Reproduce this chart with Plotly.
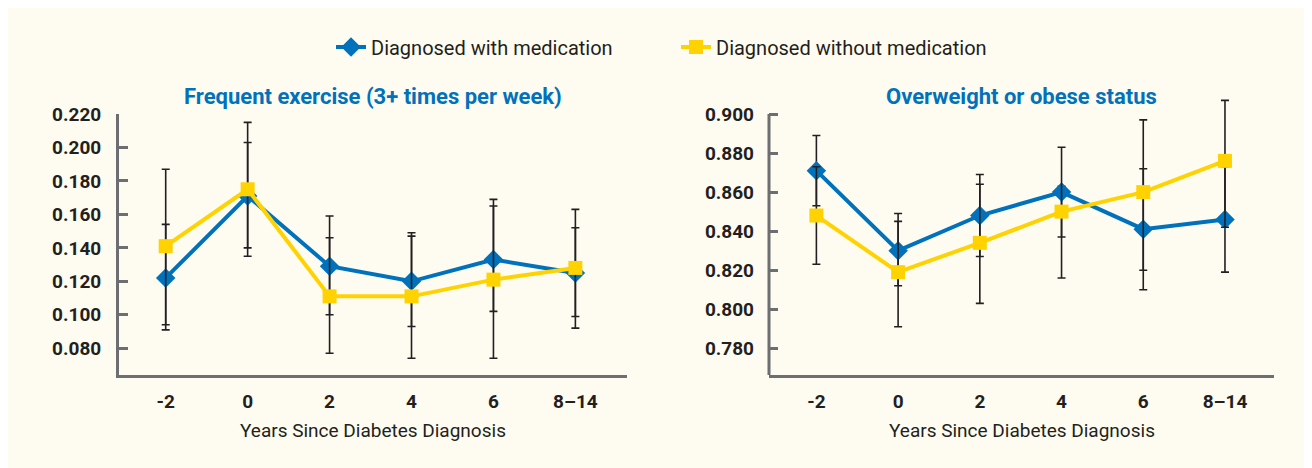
import plotly.graph_objects as go

categories = ["-2", "0", "2", "4", "6", "8–14"]

series_names = ["Diagnosed with medication", "Diagnosed without medication"]

exercise_med = [0.122, 0.171, 0.129, 0.120, 0.133, 0.125]
exercise_med_lo = [0.091, 0.140, 0.100, 0.093, 0.102, 0.099]
exercise_med_hi = [0.154, 0.203, 0.159, 0.149, 0.165, 0.152]
exercise_nomed = [0.141, 0.175, 0.111, 0.111, 0.121, 0.128]
exercise_nomed_lo = [0.094, 0.135, 0.077, 0.074, 0.074, 0.092]
exercise_nomed_hi = [0.187, 0.215, 0.146, 0.147, 0.169, 0.163]

overweight_med = [0.871, 0.830, 0.848, 0.860, 0.841, 0.846]
overweight_med_lo = [0.853, 0.812, 0.827, 0.837, 0.810, 0.819]
overweight_med_hi = [0.889, 0.849, 0.869, 0.863, 0.872, 0.873]
overweight_nomed = [0.848, 0.819, 0.834, 0.850, 0.860, 0.876]
overweight_nomed_lo = [0.823, 0.791, 0.803, 0.816, 0.820, 0.842]
overweight_nomed_hi = [0.873, 0.845, 0.864, 0.883, 0.897, 0.907]

exercise_ticks = [0.08, 0.10, 0.12, 0.14, 0.16, 0.18, 0.20, 0.22]
overweight_ticks = [0.78, 0.80, 0.82, 0.84, 0.86, 0.88, 0.90]

panel_titles = ["Frequent exercise (3+ times per week)", "Overweight or obese status"]
x_title = "Years Since Diabetes Diagnosis"

W, H = 1312, 468
blue = "#0072BC"
yellow = "#FFD200"
ink = "#231F20"
axis_grey = "#6D6E71"
font = "Roboto, Arial, sans-serif"


def trace(y, lo, hi, name, color, symbol, xa, ya, show):
    return go.Scatter(
        x=categories, y=y, name=name, xaxis=xa, yaxis=ya, showlegend=show,
        mode="lines+markers", cliponaxis=False,
        line=dict(color=color, width=4),
        marker=dict(color=color, symbol=symbol, size=15 if symbol == "diamond" else 14),
        error_y=dict(type="data", symmetric=False,
                     array=[h - v for h, v in zip(hi, y)],
                     arrayminus=[v - l for v, l in zip(y, lo)],
                     color=ink, thickness=1.6, width=4),
    )


fig = go.Figure()
fig.add_trace(trace(exercise_med, exercise_med_lo, exercise_med_hi, series_names[0], blue, "diamond", "x", "y", True))
fig.add_trace(trace(exercise_nomed, exercise_nomed_lo, exercise_nomed_hi, series_names[1], yellow, "square", "x", "y", True))
fig.add_trace(trace(overweight_med, overweight_med_lo, overweight_med_hi, series_names[0], blue, "diamond", "x2", "y2", False))
fig.add_trace(trace(overweight_nomed, overweight_nomed_lo, overweight_nomed_hi, series_names[1], yellow, "square", "x2", "y2", False))

xcommon = dict(type="category", showgrid=False, zeroline=False, ticks="",
               showline=True, linecolor=axis_grey, linewidth=3,
               tickfont=dict(family=font, size=19, color=ink, weight="bold"),
               ticklabelstandoff=7, automargin=False)
ycommon = dict(showgrid=False, zeroline=False, ticks="inside", ticklen=9, tickwidth=3,
               tickcolor=axis_grey, showline=True, linecolor=axis_grey, linewidth=3,
               tickformat=".3f", tickfont=dict(family=font, size=19, color=ink, weight="bold"),
               ticklabelstandoff=11, automargin=False)

# page body adds an 8px offset, so positions below are measured minus 8
top = 1 - 106 / H
bot = 1 - 367 / H
# right panel: extend the range a little so the top error bar is not clipped,
# and draw the y axis line only up to the last tick
y2_lo, y2_axis_top, y2_hi = 0.7663, 0.900, 0.910
top2 = 1 - (106 - 19.5) / H
fig.update_layout(
    width=W, height=H,
    margin=dict(l=0, r=0, t=0, b=0),
    paper_bgcolor="#FEFCF0", plot_bgcolor="rgba(0,0,0,0)",
    xaxis=dict(xcommon, domain=[111 / W, 619 / W], range=[-0.57, 5.63], anchor="y"),
    xaxis2=dict(xcommon, domain=[761 / W, 1266 / W], range=[-0.58, 5.6], anchor="y2"),
    yaxis=dict(ycommon, domain=[bot, top], range=[0.064, 0.220], tickvals=exercise_ticks, anchor="x"),
    yaxis2=dict(ycommon, domain=[bot, top2], range=[y2_lo, y2_hi], tickvals=overweight_ticks,
                anchor="x2", showline=False, ticklabelstandoff=14),
    legend=dict(orientation="h", x=0.5 + 12 / W, xanchor="center", y=1 - 39 / H, yanchor="middle",
                font=dict(family=font, size=20, color=ink), bgcolor="rgba(0,0,0,0)",
                entrywidth=300, entrywidthmode="pixels"),
    shapes=[dict(type="line", xref="x2 domain", yref="y2", x0=0, x1=0,
                 y0=y2_lo, y1=y2_axis_top, line=dict(color=axis_grey, width=3))],
)

for i, t in enumerate(panel_titles):
    cx = (365 if i == 0 else 1013.5) / W
    fig.add_annotation(text=t, x=cx, y=1 - 88 / H, xref="paper", yref="paper",
                       showarrow=False, xanchor="center", yanchor="middle",
                       font=dict(family=font, size=22, color=blue, weight="bold"))
    fig.add_annotation(text=x_title, x=cx, y=1 - 422 / H, xref="paper", yref="paper",
                       showarrow=False, xanchor="center", yanchor="middle",
                       font=dict(family=font, size=19, color=ink))

fig.write_html("out.html")
